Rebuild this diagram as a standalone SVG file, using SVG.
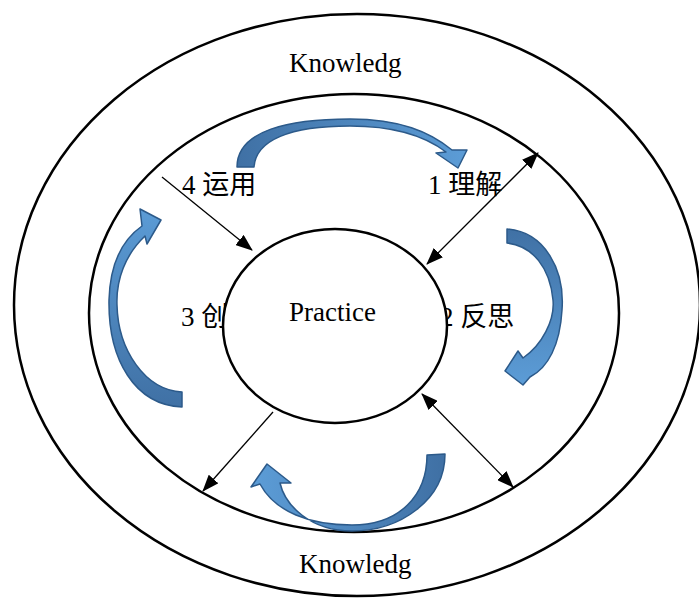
<svg xmlns="http://www.w3.org/2000/svg" width="699" height="599" viewBox="0 0 699 599">
<style>
.ring{fill:none;stroke:#000;stroke-width:2.5}
.core{fill:#fff;stroke:#000;stroke-width:2.5}
.t{font-family:"Liberation Serif","Noto Sans CJK SC",serif;font-size:27px;fill:#000}
.con{stroke:#000;stroke-width:1.3;fill:none}
.ba{stroke:#2c5a8a;stroke-width:1.5;stroke-linejoin:round}
</style>
<defs>
<marker id="ah" markerWidth="17" markerHeight="13" refX="16" refY="6.5" orient="auto-start-reverse" markerUnits="userSpaceOnUse">
<path d="M0,0 L17,6.5 L0,13 z" fill="#000"/>
</marker>
<linearGradient id="gTop" gradientUnits="userSpaceOnUse" x1="240" y1="160" x2="460" y2="160"><stop offset="0" stop-color="#4071a5"/><stop offset="1" stop-color="#5b9bd5"/></linearGradient>
<linearGradient id="gRight" gradientUnits="userSpaceOnUse" x1="0" y1="230" x2="0" y2="380"><stop offset="0" stop-color="#4071a5"/><stop offset="1" stop-color="#5b9bd5"/></linearGradient>
<linearGradient id="gBot" gradientUnits="userSpaceOnUse" x1="440" y1="0" x2="260" y2="0"><stop offset="0" stop-color="#4071a5"/><stop offset="1" stop-color="#5b9bd5"/></linearGradient>
<linearGradient id="gLeft" gradientUnits="userSpaceOnUse" x1="0" y1="405" x2="0" y2="212"><stop offset="0" stop-color="#4071a5"/><stop offset="1" stop-color="#5b9bd5"/></linearGradient>
</defs>

<g id="outer-ring">
<ellipse class="ring" cx="357" cy="305" rx="343" ry="291"/>
<text class="t" x="289" y="72">Knowledg</text>
<text class="t" x="299" y="573">Knowledg</text>
</g>
<g id="middle-ring">
<ellipse class="ring" cx="354" cy="313" rx="265" ry="219"/>
</g>

<g id="cycle-arrows">
<path id="arrow-top" class="ba" fill="url(#gTop)" d="M237,167 C237,130 290,119 350,119 C400,119 430,132 452,150 L467,150 L458,168 L436,153 L446,152 C425,136 395,126 350,126 C290,126 256,140 254,167 Z"/>
<path id="arrow-right" class="ba" fill="url(#gRight)" d="M507,229 C545,232 565,270 562,310 C560,345 548,368 530,377 L523,385 L505,371 L518,351 L523,358 C542,345 555,320 553,300 C550,268 533,246 507,243 Z"/>
<path id="arrow-bottom" class="ba" fill="url(#gBot)" d="M445,454 C445,500 400,531 352,531 C310,531 285,505 280,483 L291,483 L267,464 L251,487 L260,484 C275,512 310,525 352,525 C400,525 427,495 427,455 Z"/>
<path id="arrow-left" class="ba" fill="url(#gLeft)" d="M182,407 C135,405 108,360 109,300 C110,265 122,240 142,226 L140,209 L161,220 L147,244 L145,236 C125,255 116,280 117,305 C118,350 145,390 182,392 Z"/>
</g>

<g id="labels">
<text class="t" x="182" y="194">4 运用</text>
<text class="t" x="428" y="194">1 理解</text>
<text class="t" x="181" y="326">3 创</text>
<text class="t" x="440" y="326">2 反思</text>
</g>

<g id="practice">
<ellipse class="core" cx="335" cy="326" rx="112" ry="97"/>
<text class="t" x="289" y="321">Practice</text>
</g>

<g id="connectors">
<line class="con" x1="162" y1="177" x2="252" y2="250" marker-end="url(#ah)"/>
<line class="con" x1="538" y1="153" x2="427" y2="264" marker-start="url(#ah)" marker-end="url(#ah)"/>
<line class="con" x1="422" y1="394" x2="513" y2="487" marker-start="url(#ah)" marker-end="url(#ah)"/>
<line class="con" x1="273" y1="412" x2="203" y2="491" marker-end="url(#ah)"/>
</g>
</svg>
